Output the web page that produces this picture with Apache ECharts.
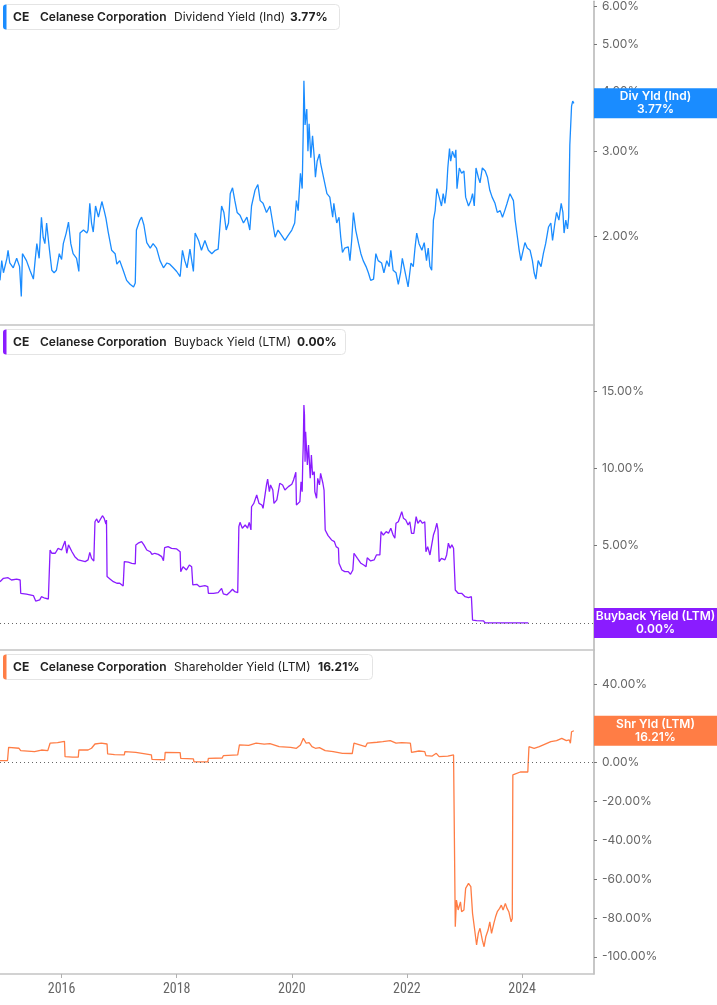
<!DOCTYPE html>
<html><head><meta charset="utf-8">
<script src="https://cdn.jsdelivr.net/npm/echarts@6/dist/echarts.min.js"></script>
<style>html,body{margin:0;padding:0;background:#fff}#c{width:717px;height:1005px}</style>
</head><body><div id="c"></div>
<script>
// Dates as decimal years; values in percent
const divYield = [[2014.93,1.62],[2014.96,1.78],[2014.99,1.68],[2015.05,1.80],[2015.07,1.87],[2015.10,1.76],[2015.16,1.72],[2015.22,1.80],[2015.27,1.73],[2015.30,1.50],[2015.32,1.84],[2015.39,1.78],[2015.45,1.70],[2015.51,1.63],[2015.54,1.78],[2015.57,1.93],[2015.61,1.80],[2015.65,2.19],[2015.68,1.99],[2015.71,1.93],[2015.74,2.13],[2015.79,1.87],[2015.83,1.70],[2015.87,1.68],[2015.91,1.70],[2015.96,1.84],[2016.00,1.79],[2016.03,1.93],[2016.08,2.03],[2016.12,2.14],[2016.16,1.93],[2016.20,1.84],[2016.26,1.80],[2016.30,1.69],[2016.32,2.03],[2016.38,2.06],[2016.44,2.03],[2016.46,2.06],[2016.49,2.34],[2016.52,2.13],[2016.55,2.04],[2016.59,2.31],[2016.64,2.19],[2016.70,2.36],[2016.74,2.26],[2016.77,2.18],[2016.81,2.04],[2016.87,1.87],[2016.93,1.84],[2016.96,1.75],[2017.01,1.78],[2017.07,1.70],[2017.13,1.62],[2017.19,1.59],[2017.25,1.57],[2017.28,1.60],[2017.30,2.06],[2017.36,2.16],[2017.39,2.19],[2017.43,2.11],[2017.48,1.94],[2017.54,1.89],[2017.59,1.93],[2017.65,1.89],[2017.71,1.78],[2017.77,1.72],[2017.83,1.76],[2017.88,1.75],[2017.94,1.72],[2018.00,1.69],[2018.06,1.65],[2018.10,1.87],[2018.14,1.78],[2018.18,1.72],[2018.23,1.88],[2018.29,1.69],[2018.32,2.03],[2018.38,1.96],[2018.43,1.87],[2018.49,1.96],[2018.55,1.87],[2018.61,1.84],[2018.67,1.87],[2018.72,1.88],[2018.75,2.09],[2018.78,2.31],[2018.82,2.24],[2018.86,2.06],[2018.90,2.13],[2018.93,2.45],[2018.97,2.52],[2019.01,2.37],[2019.05,2.24],[2019.10,2.21],[2019.16,2.13],[2019.22,2.19],[2019.27,2.06],[2019.30,2.31],[2019.36,2.49],[2019.41,2.56],[2019.45,2.37],[2019.50,2.34],[2019.56,2.24],[2019.62,2.31],[2019.68,2.09],[2019.71,1.99],[2019.76,2.06],[2019.82,2.01],[2019.88,1.96],[2019.94,2.01],[2020.00,2.06],[2020.05,2.13],[2020.08,2.37],[2020.11,2.26],[2020.15,2.70],[2020.18,2.51],[2020.20,3.40],[2020.21,4.20],[2020.23,3.40],[2020.26,3.67],[2020.28,3.00],[2020.30,3.42],[2020.33,2.91],[2020.36,3.23],[2020.39,2.91],[2020.41,2.65],[2020.44,2.86],[2020.48,2.96],[2020.50,2.83],[2020.55,2.65],[2020.61,2.45],[2020.66,2.41],[2020.71,2.19],[2020.73,2.34],[2020.78,2.13],[2020.82,2.19],[2020.85,1.99],[2020.88,1.85],[2020.92,1.89],[2020.98,1.90],[2021.01,1.78],[2021.04,1.96],[2021.07,2.24],[2021.11,2.06],[2021.16,1.93],[2021.20,1.84],[2021.24,1.78],[2021.29,1.73],[2021.33,1.68],[2021.37,1.62],[2021.42,1.63],[2021.46,1.84],[2021.50,1.78],[2021.56,1.76],[2021.60,1.68],[2021.65,1.78],[2021.69,1.73],[2021.72,1.87],[2021.76,1.70],[2021.81,1.68],[2021.85,1.59],[2021.89,1.68],[2021.92,1.80],[2021.97,1.68],[2022.02,1.57],[2022.07,1.76],[2022.11,1.73],[2022.14,1.89],[2022.17,2.03],[2022.21,1.93],[2022.26,1.87],[2022.30,1.94],[2022.34,1.78],[2022.37,1.89],[2022.40,1.73],[2022.43,1.70],[2022.46,2.16],[2022.49,2.26],[2022.52,2.51],[2022.56,2.41],[2022.60,2.31],[2022.63,2.45],[2022.66,2.34],[2022.69,2.51],[2022.71,2.77],[2022.74,3.04],[2022.76,2.86],[2022.79,3.00],[2022.83,2.91],[2022.85,3.02],[2022.87,2.51],[2022.91,2.77],[2022.95,2.70],[2022.99,2.73],[2023.02,2.41],[2023.07,2.31],[2023.11,2.37],[2023.14,2.45],[2023.17,2.31],[2023.20,2.77],[2023.24,2.65],[2023.27,2.58],[2023.31,2.77],[2023.36,2.73],[2023.40,2.65],[2023.44,2.49],[2023.48,2.41],[2023.53,2.34],[2023.57,2.24],[2023.62,2.26],[2023.66,2.19],[2023.70,2.26],[2023.74,2.34],[2023.79,2.45],[2023.82,2.47],[2023.85,2.37],[2023.88,2.16],[2023.92,1.99],[2023.95,1.87],[2023.98,1.78],[2024.01,1.85],[2024.05,1.94],[2024.09,1.89],[2024.14,1.87],[2024.18,1.78],[2024.21,1.68],[2024.24,1.63],[2024.28,1.78],[2024.33,1.73],[2024.37,1.84],[2024.41,1.93],[2024.46,2.09],[2024.50,2.13],[2024.53,1.96],[2024.57,2.13],[2024.60,2.24],[2024.64,2.16],[2024.68,2.34],[2024.71,2.24],[2024.73,2.03],[2024.76,2.16],[2024.79,2.07],[2024.81,2.19],[2024.83,3.09],[2024.86,3.72],[2024.88,3.81],[2024.90,3.77]];

const buybackYield = [[2014.93,2.67],[2014.99,2.89],[2015.07,2.93],[2015.13,2.78],[2015.22,2.83],[2015.28,2.78],[2015.29,1.92],[2015.39,1.86],[2015.51,1.77],[2015.54,1.75],[2015.55,1.42],[2015.62,1.49],[2015.65,1.70],[2015.71,1.60],[2015.77,1.55],[2015.79,1.49],[2015.80,4.72],[2015.83,4.51],[2015.89,4.51],[2015.94,4.83],[2016.00,4.72],[2016.06,5.30],[2016.09,4.51],[2016.12,5.05],[2016.18,4.61],[2016.23,4.29],[2016.29,4.08],[2016.32,3.97],[2016.41,3.97],[2016.46,4.08],[2016.49,4.57],[2016.52,4.18],[2016.56,4.01],[2016.58,6.55],[2016.61,6.73],[2016.64,6.49],[2016.67,6.55],[2016.71,6.94],[2016.74,6.77],[2016.77,6.40],[2016.78,6.66],[2016.79,3.00],[2016.84,2.85],[2016.90,2.67],[2016.96,2.57],[2017.01,2.57],[2017.07,2.39],[2017.09,3.97],[2017.16,3.93],[2017.22,3.86],[2017.28,3.82],[2017.29,5.05],[2017.33,5.16],[2017.39,5.26],[2017.43,5.05],[2017.48,4.72],[2017.54,4.61],[2017.57,4.44],[2017.62,4.51],[2017.68,4.44],[2017.74,4.29],[2017.77,4.03],[2017.79,4.87],[2017.85,4.94],[2017.91,4.83],[2018.00,4.79],[2018.06,4.61],[2018.07,3.32],[2018.11,3.64],[2018.17,3.43],[2018.22,3.75],[2018.26,3.64],[2018.28,2.46],[2018.35,2.50],[2018.40,2.35],[2018.49,2.41],[2018.54,2.35],[2018.55,1.92],[2018.64,1.92],[2018.72,1.96],[2018.75,1.96],[2018.78,2.24],[2018.81,1.88],[2018.87,1.81],[2018.93,2.02],[2018.97,2.18],[2019.01,2.02],[2019.06,1.96],[2019.08,6.23],[2019.10,6.51],[2019.14,6.13],[2019.19,6.34],[2019.23,6.13],[2019.26,6.51],[2019.29,6.02],[2019.30,7.52],[2019.34,7.74],[2019.39,8.28],[2019.42,8.39],[2019.43,7.74],[2019.48,7.63],[2019.50,7.42],[2019.53,7.52],[2019.56,8.93],[2019.58,9.31],[2019.61,8.49],[2019.63,8.93],[2019.67,8.60],[2019.69,7.74],[2019.74,7.96],[2019.77,7.96],[2019.79,9.04],[2019.84,8.93],[2019.88,8.60],[2019.94,8.82],[2020.00,8.97],[2020.03,9.25],[2020.07,9.75],[2020.08,7.63],[2020.11,7.52],[2020.14,7.85],[2020.16,9.14],[2020.18,8.49],[2020.19,10.43],[2020.20,11.73],[2020.21,14.10],[2020.22,13.45],[2020.23,10.43],[2020.24,12.37],[2020.27,10.22],[2020.29,11.51],[2020.32,9.36],[2020.34,10.87],[2020.36,9.57],[2020.39,9.79],[2020.40,8.49],[2020.43,8.07],[2020.45,9.36],[2020.48,8.93],[2020.50,9.68],[2020.54,9.04],[2020.56,8.60],[2020.58,6.02],[2020.63,5.65],[2020.69,5.37],[2020.74,5.26],[2020.77,4.94],[2020.81,4.83],[2020.82,3.86],[2020.87,3.43],[2020.92,3.32],[2020.98,3.32],[2021.02,3.15],[2021.06,3.43],[2021.08,4.51],[2021.14,4.18],[2021.20,3.86],[2021.25,3.75],[2021.29,3.64],[2021.31,4.22],[2021.37,4.01],[2021.43,4.08],[2021.47,4.40],[2021.53,4.40],[2021.55,5.91],[2021.59,5.69],[2021.64,5.91],[2021.68,5.80],[2021.72,6.13],[2021.76,5.69],[2021.79,5.48],[2021.81,6.45],[2021.85,6.55],[2021.88,6.45],[2021.91,7.20],[2021.94,6.77],[2021.98,6.66],[2022.02,6.34],[2022.05,6.55],[2022.08,5.80],[2022.12,5.80],[2022.16,6.88],[2022.19,6.45],[2022.23,6.66],[2022.27,6.45],[2022.31,6.55],[2022.33,4.61],[2022.36,4.94],[2022.40,4.40],[2022.43,4.35],[2022.46,5.69],[2022.49,6.02],[2022.52,6.45],[2022.54,6.02],[2022.56,3.97],[2022.60,4.18],[2022.66,4.08],[2022.69,4.40],[2022.72,5.16],[2022.75,4.83],[2022.78,5.05],[2022.81,4.83],[2022.82,4.83],[2022.84,2.13],[2022.89,1.92],[2022.95,1.92],[2023.01,1.70],[2023.07,1.64],[2023.12,1.70],[2023.14,0.19],[2023.21,0.15],[2023.33,0.13],[2023.36,0.00],[2024.11,0.00]];

const shareholderYield = [[2014.93,0.8],[2015.06,0.8],[2015.08,7.7],[2015.26,7.2],[2015.29,6.0],[2015.53,5.5],[2015.65,6.3],[2015.76,6.0],[2015.80,9.8],[2015.93,10.1],[2016.05,10.8],[2016.06,2.9],[2016.19,2.6],[2016.29,2.6],[2016.30,6.3],[2016.46,6.3],[2016.52,7.2],[2016.58,9.4],[2016.69,9.8],[2016.79,9.4],[2016.80,4.3],[2016.92,3.9],[2017.09,3.8],[2017.10,5.5],[2017.29,5.1],[2017.31,4.3],[2017.56,3.8],[2017.57,1.5],[2017.79,1.3],[2017.80,5.1],[2018.06,5.0],[2018.07,2.0],[2018.29,1.7],[2018.30,0.2],[2018.54,0.2],[2018.55,2.0],[2018.79,2.2],[2018.81,3.4],[2019.06,3.8],[2019.09,8.9],[2019.25,8.7],[2019.38,9.8],[2019.52,9.3],[2019.62,9.6],[2019.78,8.0],[2019.98,7.7],[2020.08,7.2],[2020.15,8.9],[2020.20,12.3],[2020.25,9.8],[2020.30,10.1],[2020.35,8.0],[2020.41,7.2],[2020.48,7.5],[2020.58,6.0],[2020.72,5.5],[2020.88,4.6],[2021.05,4.5],[2021.08,9.8],[2021.18,8.9],[2021.28,8.0],[2021.31,9.8],[2021.48,10.3],[2021.58,10.6],[2021.71,11.1],[2021.81,9.8],[2021.91,10.1],[2022.06,9.8],[2022.08,5.1],[2022.21,5.8],[2022.31,5.5],[2022.33,3.4],[2022.44,3.2],[2022.51,4.6],[2022.56,2.9],[2022.71,3.2],[2022.81,3.8],[2022.84,-84.5],[2022.86,-70.8],[2022.89,-75.9],[2022.93,-71.7],[2022.95,-76.8],[2022.99,-75.9],[2023.02,-64.8],[2023.07,-62.2],[2023.11,-63.9],[2023.14,-77.7],[2023.17,-84.5],[2023.21,-93.9],[2023.24,-87.9],[2023.27,-85.3],[2023.31,-91.4],[2023.34,-94.8],[2023.37,-89.7],[2023.41,-86.2],[2023.44,-82.0],[2023.47,-87.9],[2023.51,-82.8],[2023.54,-79.4],[2023.57,-76.8],[2023.61,-75.1],[2023.64,-73.4],[2023.67,-75.9],[2023.71,-72.5],[2023.74,-75.1],[2023.77,-76.8],[2023.81,-82.0],[2023.83,-80.3],[2023.84,-6.5],[2023.87,-5.7],[2023.97,-5.0],[2024.10,-5.0],[2024.12,8.0],[2024.21,7.2],[2024.30,8.0],[2024.40,9.3],[2024.50,10.6],[2024.60,11.1],[2024.69,12.3],[2024.77,11.1],[2024.82,11.5],[2024.84,9.8],[2024.86,15.7],[2024.90,16.21]];

const yearTicks = [2016, 2018, 2020, 2022, 2024];
const divTicks = [2, 3, 4, 5, 6];
const buybackTicks = [0, 5, 10, 15];
const shrTicks = [40, 20, 0, -20, -40, -60, -80, -100];
const lastValues = { div: 3.77, buyback: 0.00, shr: 16.21 };
const company = 'Celanese Corporation';
const ticker = 'CE';
const titles = ['Dividend Yield (Ind)', 'Buyback Yield (LTM)', 'Shareholder Yield (LTM)'];
const endNames = ['Div Yld (Ind)', 'Buyback Yield (LTM)', 'Shr Yld (LTM)'];

const colors = ['#1a8cff', '#8a1cff', '#ff7d45'];
const X_MIN = 2014.93, X_MAX = 2025.25;
const FONT = 'Inter, Roboto, "Noto Sans", sans-serif';

const chart = echarts.init(document.getElementById('c'), null, { renderer: 'canvas' });
const lg = v => Math.log10(v);

function xAxis(idx, showLabels) {
  return {
    type: 'value', gridIndex: idx, min: X_MIN, max: X_MAX,
    splitLine: { show: false },
    axisLine: { show: true, onZero: false, lineStyle: { color: '#c4c4c4', width: 1.5 } },
    axisTick: { show: showLabels, customValues: yearTicks, length: 4, lineStyle: { color: '#b0b0b0' } },
    axisLabel: { show: showLabels, customValues: yearTicks, formatter: v => String(Math.round(v)),
      color: '#666', fontSize: 14, margin: 8,
      fontFamily: '"Liberation Sans Narrow", "Roboto Condensed", "DejaVu Sans Condensed", Roboto, sans-serif' }
  };
}
function yAxis(idx, min, max, ticks, fmt) {
  return {
    type: 'value', gridIndex: idx, position: 'right', min, max, scale: true,
    splitLine: { show: false },
    axisLine: { show: true, lineStyle: { color: '#b4b4b4', width: 1.5 } },
    axisTick: { show: true, customValues: ticks, length: 3, lineStyle: { color: '#777' } },
    axisLabel: { customValues: ticks, formatter: fmt, color: '#666', fontSize: 12, margin: 8, fontFamily: FONT }
  };
}
const pct = v => v.toFixed(2) + '%';

function endLabel(xv, yv, color, name, val) {
  return {
    silent: true, animation: false,
    symbol: 'rect', symbolSize: [123, 30], symbolOffset: [61.5, 0],
    itemStyle: { color },
    label: { show: true, position: 'inside', color: '#fff', fontSize: 12, fontWeight: 600,
      fontFamily: FONT, lineHeight: 13, formatter: name + '\n' + pct(val) },
    data: [{ coord: [xv, yv] }]
  };
}
const zeroLine = {
  silent: true, symbol: 'none', animation: false,
  lineStyle: { type: [1, 3], color: '#666', width: 1 },
  label: { show: false }, data: [{ yAxis: 0 }]
};

function legendElems(top, width, idx, val) {
  const f = (w) => w + ' 12px ' + FONT;
  const cy = top + 13;
  return [
    { type: 'rect', shape: { x: 3.5, y: top + 0.5, width: width, height: 25, r: 4 },
      style: { fill: '#fff', stroke: '#e4e4e4', lineWidth: 1 }, z: 10 },
    { type: 'rect', shape: { x: 3, y: top + 0.5, width: 3.5, height: 25, r: [3, 0, 0, 3] },
      style: { fill: colors[idx] }, z: 11 },
    { type: 'text', x: 13, y: cy, z: 11, style: { text: ticker, fill: '#222', font: f(700), verticalAlign: 'middle' } },
    { type: 'text', x: 40, y: cy, z: 11, style: { text: company, fill: '#222', font: f(600), verticalAlign: 'middle' } },
    { type: 'text', x: 174, y: cy, z: 11, style: { text: titles[idx], fill: '#222', font: f(400), verticalAlign: 'middle' } },
    { type: 'text', x: [290, 297, 318][idx], y: cy, z: 11, style: { text: pct(val), fill: '#222', font: f(700), verticalAlign: 'middle' } }
  ];
}

const option = {
  animation: false,
  grid: [
    { left: 0, right: 123, top: 0, height: 325 },
    { left: 0, right: 123, top: 325, height: 325 },
    { left: 0, right: 123, top: 650, height: 324 }
  ],
  xAxis: [xAxis(0, false), xAxis(1, false), xAxis(2, true)],
  yAxis: [
    yAxis(0, 0.117, 0.788, divTicks.map(lg), v => pct(Math.pow(10, v))),
    yAxis(1, -1.75, 19.28, buybackTicks, pct),
    yAxis(2, -108.8, 57.7, shrTicks, pct)
  ],
  series: [
    { type: 'line', xAxisIndex: 0, yAxisIndex: 0, showSymbol: false, symbol: 'none',
      data: divYield.map(d => [d[0], lg(d[1])]),
      lineStyle: { color: colors[0], width: 1.3 },
      markPoint: endLabel(X_MAX, lg(lastValues.div), colors[0], endNames[0], lastValues.div) },
    { type: 'line', xAxisIndex: 1, yAxisIndex: 1, showSymbol: false, symbol: 'none',
      data: buybackYield, lineStyle: { color: colors[1], width: 1.3 },
      markLine: zeroLine,
      markPoint: endLabel(X_MAX, lastValues.buyback, colors[1], endNames[1], lastValues.buyback) },
    { type: 'line', xAxisIndex: 2, yAxisIndex: 2, showSymbol: false, symbol: 'none',
      data: shareholderYield, lineStyle: { color: colors[2], width: 1.3 },
      markLine: zeroLine,
      markPoint: endLabel(X_MAX, lastValues.shr, colors[2], endNames[2], lastValues.shr) }
  ],
  graphic: [].concat(
    legendElems(4, 336, 0, lastValues.div),
    legendElems(329, 342, 1, lastValues.buyback),
    legendElems(654, 369, 2, lastValues.shr)
  )
};
chart.setOption(option);
</script></body></html>
